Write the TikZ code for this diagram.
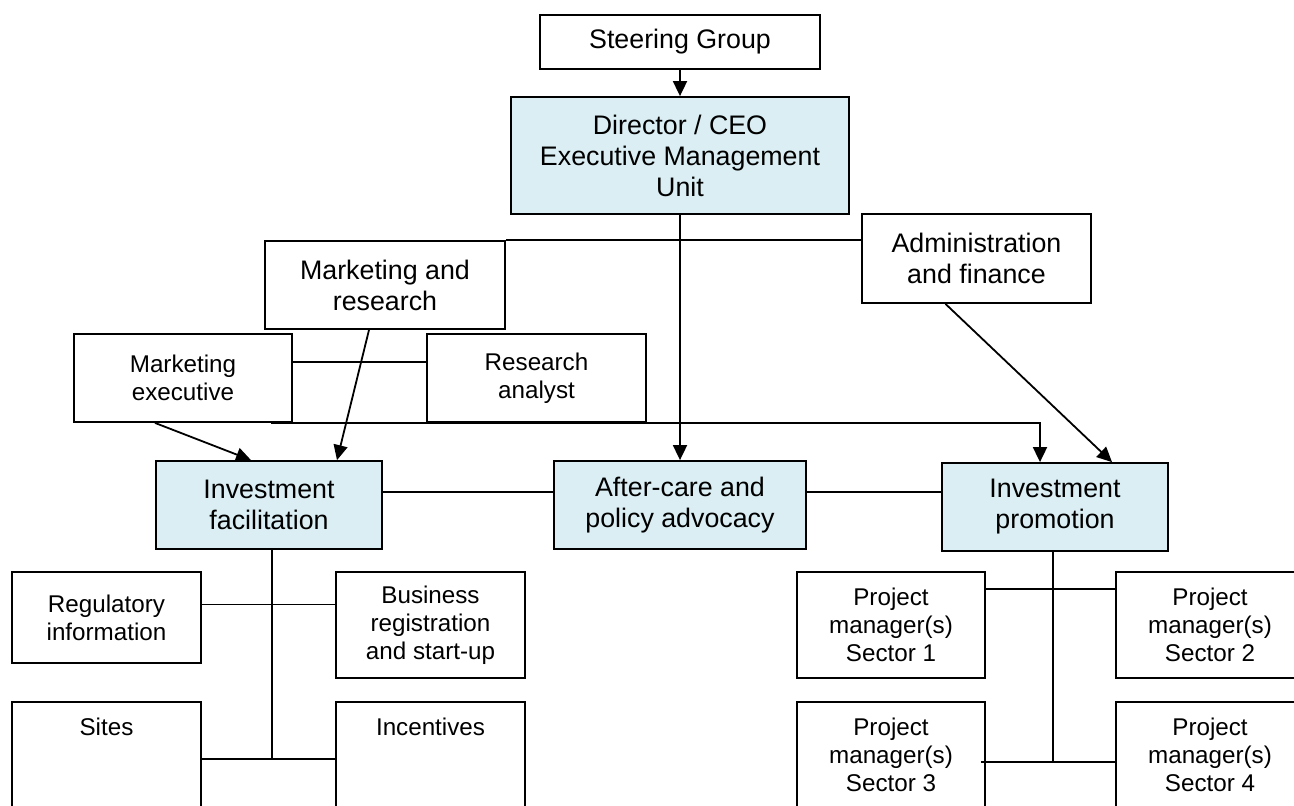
\documentclass[tikz,border=0pt]{standalone}
\usepackage{fontspec}
\setmainfont{Liberation Sans}
\usetikzlibrary{arrows.meta}
\definecolor{boxblue}{HTML}{DAEEF3}
\begin{document}
\begin{tikzpicture}[x=0.5pt,y=-0.5pt,line width=0.9pt,
  >={Triangle[length=7.5pt,width=7pt]},
  bigtext/.style={font=\fontsize{13.4}{15.5}\selectfont},
  smalltext/.style={font=\fontsize{12.1}{14}\selectfont},
  unit/.style={draw,fill=white,align=center,inner sep=2pt,bigtext},
  mainunit/.style={unit,fill=boxblue},
  subunit/.style={draw,fill=white,align=center,inner sep=2pt,smalltext},
  toplabel/.style={smalltext,anchor=north,yshift=-4.5pt}]
\useasboundingbox (0,0) rectangle (1294,805);

\node (steer) [unit, minimum width=140pt, minimum height=27pt] at (680,42) {Steering Group};
\node (ceo) [mainunit, minimum width=169pt, minimum height=58.5pt] at (680,155.5) {Director / CEO\\Executive Management\\Unit};
\node (mr) [unit, minimum width=120pt, minimum height=44pt] at (385,285) {Marketing and\\research};
\node (admin) [unit, minimum width=114.5pt, minimum height=44.5pt] at (976.5,258.5) {Administration\\and finance};
\node (mexec) [subunit, minimum width=109pt, minimum height=44pt] at (183,378) {Marketing\\executive};
\node (ranalyst) [subunit, minimum width=109.5pt, minimum height=44pt] at (536.5,378) {Research\\analyst};
\node (facil) [mainunit, minimum width=113pt, minimum height=44pt] at (269,505) {Investment\\facilitation};
\node (aftercare) [mainunit, minimum width=126pt, minimum height=44pt] at (680,505) {After-care and\\policy advocacy};
\node (promo) [mainunit, minimum width=113pt, minimum height=44pt] at (1055,507) {Investment\\promotion};
\node (reg) [subunit, minimum width=94.5pt, minimum height=45.5pt] at (106.5,617.5) {Regulatory\\information};
\node (busreg) [subunit, minimum width=94.5pt, minimum height=53pt] at (430.5,625) {Business\\registration\\and start-up};
\node (sites) [subunit, minimum width=94.5pt, minimum height=75pt, label={[toplabel]north:Sites}] at (106.5,777) {};
\node (incent) [subunit, minimum width=94.5pt, minimum height=75pt, label={[toplabel]north:Incentives}] at (430.5,777) {};
\node (pmone) [subunit, minimum width=94pt, minimum height=53pt] at (891,625) {Project\\manager(s)\\Sector 1};
\node (pmtwo) [subunit, minimum width=94pt, minimum height=53pt] at (1210,625) {Project\\manager(s)\\Sector 2};
\node (pmthree) [subunit, minimum width=94pt, minimum height=53pt] at (891,755) {Project\\manager(s)\\Sector 3};
\node (pmfour) [subunit, minimum width=94pt, minimum height=53pt] at (1210,755) {Project\\manager(s)\\Sector 4};
\coordinate (mline) at (271,423);
\coordinate (fjoin) at (272,759);
\coordinate (pjoin) at (1053,762);

\draw[->] (steer) -- (ceo);
\draw (mr.north east) -- (mr.north east -| admin.west);
\draw[->] (ceo) -- (aftercare);
\draw ([yshift=8pt]mexec.east) -- ([yshift=8pt]ranalyst.west);
\draw[->] (mline) -| ([xshift=-7.5pt]promo.north);
\draw[->] ([xshift=-14pt]mexec.south) -- ([xshift=-9pt]facil.north);
\draw[->] ([xshift=-8pt]mr.south) -- ([xshift=34pt]facil.north);
\draw[->] ([xshift=-15.5pt]admin.south) -- ([xshift=28.5pt]promo.north);
\draw ([yshift=6.5pt]facil.east) -- ([yshift=6.5pt]facil.east -| aftercare.west);
\draw ([yshift=6.5pt]aftercare.east) -- ([yshift=6.5pt]aftercare.east -| promo.west);
\draw (facil.south -| fjoin) -- (fjoin);
\draw ([yshift=6.5pt]reg.east) -- ([yshift=6.5pt]reg.east -| busreg.west);
\draw (sites.east |- fjoin) -- (incent.west |- fjoin);
\draw (promo.south -| pjoin) -- (pjoin);
\draw ([yshift=-9pt]pmone.north east) -- ([yshift=-9pt]pmone.north east -| pmtwo.west);
\draw ([xshift=-2.5pt]pmthree.east |- pjoin) -- (pmfour.west |- pjoin);
\end{tikzpicture}
\end{document}
